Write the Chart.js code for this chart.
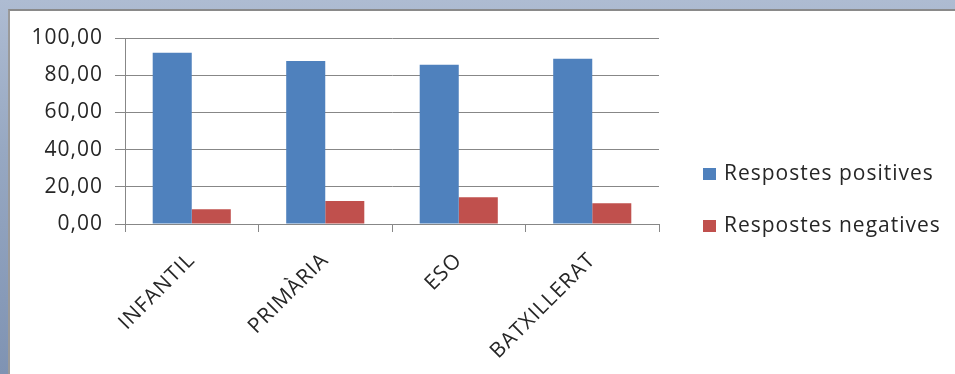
<!DOCTYPE html>
<html>
<head>
<meta charset="utf-8">
<script src="https://cdn.jsdelivr.net/npm/chart.js@4.4.1/dist/chart.umd.min.js"></script>
<style>
  html, body { margin: 0; padding: 0; }
  body {
    width: 955px; height: 374px; overflow: hidden; position: relative;
    background: linear-gradient(180deg, #aebcd2 0%, #97a8c2 40%, #7f93b3 100%);
  }
  #frame {
    position: absolute; left: 8px; top: 9px; width: 947px; height: 365px;
    background: #ffffff; border-top: 2px solid #8a8a8a; border-left: 2px solid #9a9a9a;
    box-sizing: border-box;
  }
  #wrap { position: absolute; left: 10px; top: 11px; width: 945px; height: 363px; }
</style>
</head>
<body>
<div id="frame"></div>
<div id="wrap"><canvas id="c" width="945" height="363"></canvas></div>
<script>
const categories = ['INFANTIL', 'PRIMÀRIA', 'ESO', 'BATXILLERAT'];
const positives = [92.1, 87.6, 85.6, 88.9];
const negatives = [7.9, 12.4, 14.4, 11.1];
const seriesNames = ['Respostes positives', 'Respostes negatives'];
const yTicks = [0, 20, 40, 60, 80, 100];

const FONT = '"Open Sans", "Liberation Sans", sans-serif';
const TEXT = '#262626';
const GRID = '#878787';
const SPACING = '1px';

const spacingPlugin = {
  id: 'spacing',
  beforeUpdate(chart) { chart.ctx.letterSpacing = SPACING; },
  beforeDraw(chart) { chart.ctx.letterSpacing = SPACING; }
};

const legendPlugin = {
  id: 'sideLegend',
  afterDraw(chart) {
    const ctx = chart.ctx;
    ctx.save();
    ctx.letterSpacing = SPACING;
    ctx.font = '21px ' + FONT;
    ctx.textBaseline = 'alphabetic';
    ctx.textAlign = 'left';
    const rows = [157, 209];
    chart.data.datasets.forEach((ds, i) => {
      const y = rows[i];
      ctx.fillStyle = ds.backgroundColor;
      ctx.fillRect(693, y, 13, 12);
      ctx.fillStyle = TEXT;
      ctx.fillText(ds.label, 714, y + 12);
    });
    ctx.restore();
  }
};

new Chart(document.getElementById('c'), {
  type: 'bar',
  data: {
    labels: categories,
    datasets: [
      { label: seriesNames[0], data: positives, backgroundColor: '#4f81bd' },
      { label: seriesNames[1], data: negatives, backgroundColor: '#c0504d' }
    ]
  },
  options: {
    responsive: false,
    animation: false,
    devicePixelRatio: 1,
    layout: { padding: { top: 27, right: 296, bottom: 0, left: 0 } },
    datasets: { bar: { categoryPercentage: 0.585, barPercentage: 1.0 } },
    plugins: { legend: { display: false }, tooltip: { enabled: false } },
    scales: {
      x: {
        offset: true,
        grid: { display: true, drawOnChartArea: false, drawTicks: true, tickLength: 8, color: GRID, offset: true },
        border: { display: true, color: GRID },
        ticks: { maxRotation: 45, minRotation: 45, padding: 16, color: TEXT, font: { family: FONT, size: 21 } },
        afterFit(s) { s.height = 150; }
      },
      y: {
        min: 0, max: 100,
        afterBuildTicks(s) { s.ticks = yTicks.map(v => ({ value: v })); },
        grid: { color: GRID, tickLength: 10, drawTicks: true },
        border: { display: true, color: GRID },
        ticks: {
          padding: 12, color: TEXT, font: { family: FONT, size: 21 },
          callback: v => v.toFixed(2).replace('.', ',')
        },
        afterFit(s) { s.width = 115; }
      }
    }
  },
  plugins: [spacingPlugin, legendPlugin]
});
</script>
</body>
</html>
